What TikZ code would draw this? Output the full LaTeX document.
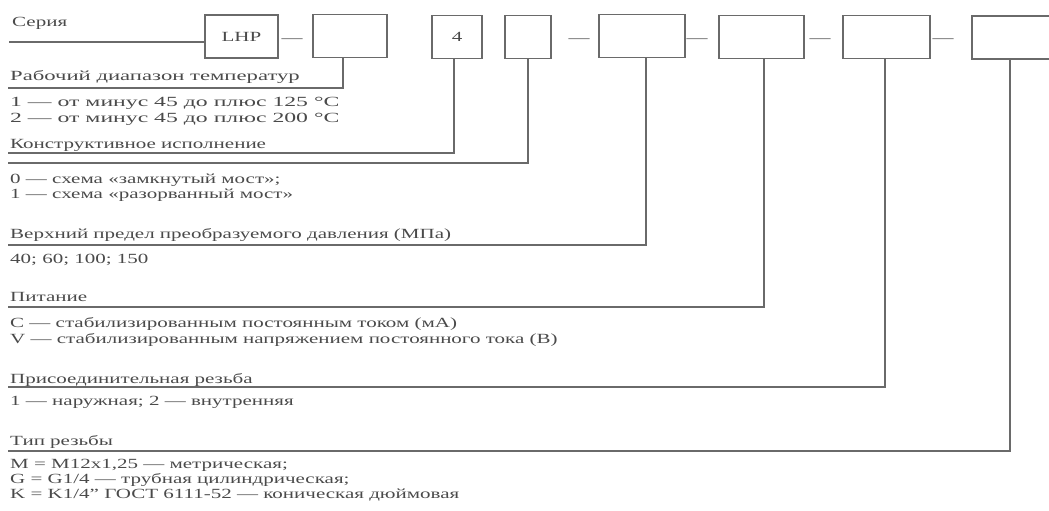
\documentclass[tikz,border=0pt]{standalone}
\usepackage{fontspec}
\usepackage{graphicx}
\setmainfont{Liberation Serif}[FakeStretch=1.5]
\definecolor{ink}{HTML}{6A6A6A}
\definecolor{txt}{HTML}{4A4A4A}
\tikzset{
  box/.style={draw=ink, line width=1.6pt, minimum height=43pt, inner sep=0pt, text=txt, font=\fontsize{14}{14}\selectfont},
  conn/.style={draw=ink, line width=1.4pt},
  lbl/.style={anchor=base west, inner sep=0pt, text=txt, font=\fontsize{14}{14}\selectfont},
  dashmark/.style={inner sep=0pt, text=txt, font=\fontsize{14}{14}\selectfont},
}
\begin{document}
\begin{tikzpicture}[x=1pt,y=-1pt]
\useasboundingbox (0,0) rectangle (1049,511);
\clip (0,0) rectangle (1049,511);
% boxes
\node[box, minimum width=73pt] (lhp) at (241.5,36.5) {LHP};
\node[box, minimum width=74pt] (b2) at (350,36) {};
\node[box, minimum width=50pt] (b4) at (457,37) {4};
\node[box, minimum width=46pt] (b5) at (528,37) {};
\node[box, minimum width=86pt] (b6) at (642,36) {};
\node[box, minimum width=85pt] (b7) at (761.5,37) {};
\node[box, minimum width=87pt] (b8) at (886.5,37) {};
\node[box, minimum width=90pt] (b9) at (1017,37.5) {};
% dashes
\node[dashmark] (d1) at (292,41) {—};
\node[dashmark] (d2) at (579,41) {—};
\node[dashmark] (d3) at (697,41) {—};
\node[dashmark] (d4) at (820,41) {—};
\node[dashmark] (d5) at (943,41) {—};
% series line
\node[lbl] (tser) at (12,27) {Серия};
\coordinate (s0) at (9,42);
\draw[conn] (s0) -- (s0 -| lhp.west);
% connector end points
\coordinate (l2) at (8,88);
\coordinate (l4) at (8,153);
\coordinate (l5) at (8,163);
\coordinate (l6) at (8,245);
\coordinate (l7) at (8,307);
\coordinate (l8) at (8,387);
\coordinate (l9) at (8,451);
\draw[conn] ([xshift=-7pt]b2.south) |- (l2);
\draw[conn] ([xshift=-3pt]b4.south) |- (l4);
\draw[conn] (b5.south) |- (l5);
\draw[conn] ([xshift=4pt]b6.south) |- (l6);
\draw[conn] ([xshift=2.5pt]b7.south) |- (l7);
\draw[conn] ([xshift=-1.5pt]b8.south) |- (l8);
\draw[conn] ([xshift=-7pt]b9.south) |- (l9);
% texts
\node[lbl] (t1) at (10,81) {\scalebox{1.08}[1]{Рабочий диапазон температур}};
\node[lbl] (t1a) at (10,106) {\scalebox{1.13}[1]{1 — от минус 45 до плюс 125 °C}};
\node[lbl] (t1b) at (10,122) {\scalebox{1.13}[1]{2 — от минус 45 до плюс 200 °C}};
\node[lbl] (t2) at (10,148) {Конструктивное исполнение};
\node[lbl] (t2a) at (10,183) {0 — схема «замкнутый мост»;};
\node[lbl] (t2b) at (10,198) {1 — схема «разорванный мост»};
\node[lbl] (t3) at (10,238) {Верхний предел преобразуемого давления (МПа)};
\node[lbl] (t3a) at (10,263) {40; 60; 100; 150};
\node[lbl] (t4) at (10,301) {Питание};
\node[lbl] (t4a) at (10,327) {C — стабилизированным постоянным током (мА)};
\node[lbl] (t4b) at (10,343) {V — стабилизированным напряжением постоянного тока (В)};
\node[lbl] (t5) at (10,383) {Присоединительная резьба};
\node[lbl] (t5a) at (10,405) {1 — наружная; 2 — внутренняя};
\node[lbl] (t6) at (10,445) {Тип резьбы};
\node[lbl] (t6a) at (10,468) {M = M12x1,25 — метрическая;};
\node[lbl] (t6b) at (10,483) {G = G1/4 — трубная цилиндрическая;};
\node[lbl] (t6c) at (10,498) {K = K1/4" ГОСТ 6111-52 — коническая дюймовая};
\end{tikzpicture}
\end{document}
